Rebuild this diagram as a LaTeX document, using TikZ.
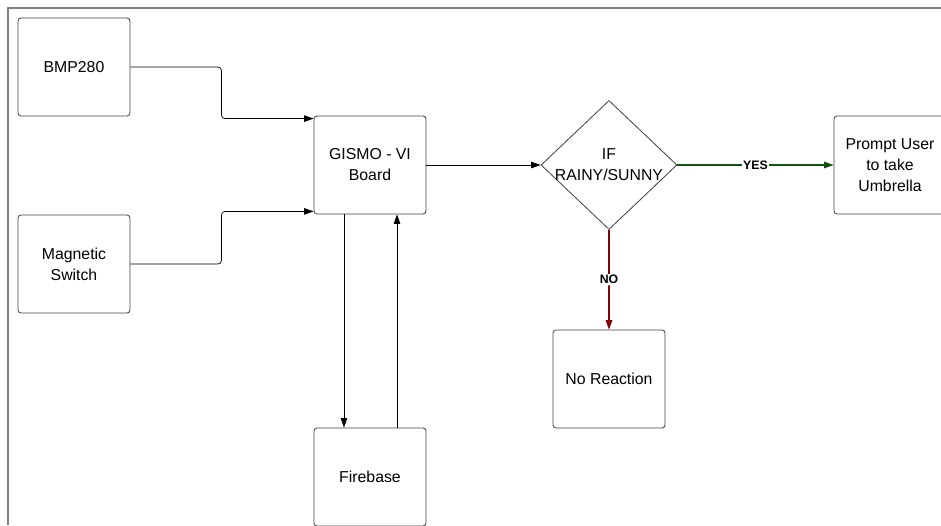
\documentclass[tikz,border=0pt]{standalone}
\usepackage{fontspec}
\setmainfont{Liberation Sans}
\usetikzlibrary{arrows.meta,shapes.geometric}
\definecolor{yesgreen}{RGB}{16,82,16}
\definecolor{nored}{RGB}{132,0,0}
\definecolor{framegray}{RGB}{128,128,128}

\begin{document}
\begin{tikzpicture}[>={Triangle[length=8pt,width=5.5pt]},
 font=\fontsize{13.5}{18}\selectfont,
 blk/.style={draw=black!75,line width=0.7pt,rounded corners=2.5pt,
   minimum width=3.36cm,minimum height=2.94cm,align=center,inner sep=1pt},
 cond/.style={draw=black!75,line width=0.7pt,diamond,aspect=1.05,
   minimum width=4.08cm,minimum height=3.87cm,inner sep=-3pt,align=center},
 flow/.style={->,line width=0.6pt,rounded corners=3pt},
 lbl/.style={font=\bfseries\fontsize{10.5}{12}\selectfont,fill=white,inner sep=1pt}]
\useasboundingbox (0,0) rectangle (28.23,15.75);
% frame
\draw[framegray,line width=1.2pt] (0.24,0) -- (0.24,15.51) -- (28.3,15.51);
% inputs
\node[blk] (bmp) at (2.22,13.74) {BMP280};
\node[blk] (mag) at (2.22,7.83) {Magnetic\\Switch};
% board and cloud
\node[blk] (gismo) at (11.1,10.8) {GISMO - VI\\Board};
\node[blk] (fire) at (11.1,1.44) {Firebase};
% decision
\node[cond] (rain) at (18.27,10.8) {IF\\RAINY/SUNNY};
\node[blk] (prompt) at (26.7,10.8) {Prompt User\\to take\\Umbrella};
\node[blk] (none) at (18.27,4.38) {No Reaction};
\draw[flow] (bmp.east) -- ++(2.73,0) |- ([yshift=-0.09cm]gismo.north west);
\draw[flow] (mag.east) -- ++(2.73,0) |- ([yshift=0.09cm]gismo.south west);
\draw[flow] ([xshift=-0.78cm]gismo.south) -- ([xshift=-0.78cm]fire.north);
\draw[flow] ([xshift=0.81cm]fire.north) -- ([xshift=0.81cm]gismo.south);
\draw[flow] (gismo.east) -- (rain.west);
\draw[flow,yesgreen,line width=1pt] (rain.east) -- node[lbl,text=black] {YES} (prompt.west);
\draw[flow,nored,line width=1pt] (rain.south) -- node[lbl,text=black] {NO} (none.north);
\end{tikzpicture}
\end{document}
